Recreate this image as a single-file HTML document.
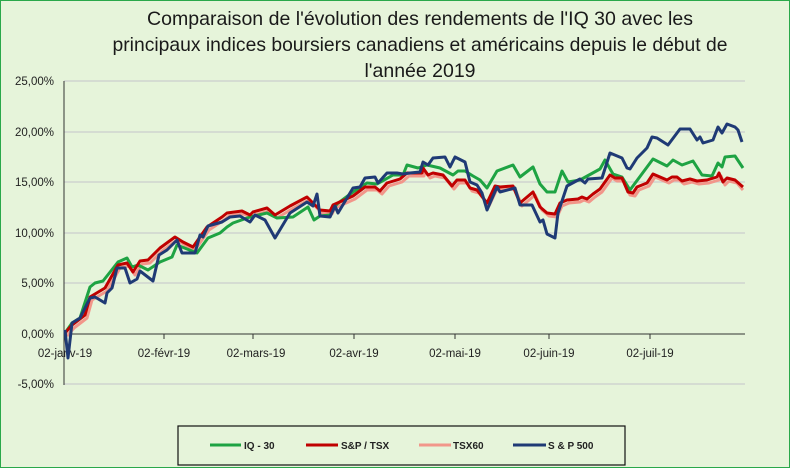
<!DOCTYPE html>
<html><head><meta charset="utf-8"><style>
body{margin:0;background:#e6f4da;}
svg{display:block;font-family:"Liberation Sans",sans-serif;}
</style></head><body>
<svg width="790" height="468" viewBox="0 0 790 468" xmlns="http://www.w3.org/2000/svg">
<rect x="0.5" y="0.5" width="789" height="467" fill="#e6f4da" stroke="#2aa84a" stroke-width="1"/>
<g font-size="19.5" fill="#1a1a1a" text-anchor="middle">
<text x="420" y="25" textLength="546" lengthAdjust="spacingAndGlyphs">Comparaison de l'évolution des rendements de l'IQ 30 avec les</text>
<text x="420" y="51" textLength="615" lengthAdjust="spacingAndGlyphs">principaux indices boursiers canadiens et américains depuis le début de</text>
<text x="420" y="77">l'année 2019</text>
</g>
<g stroke="#cfd3d0" stroke-width="1.5">
<line x1="64" y1="81" x2="745" y2="81"/><line x1="64" y1="132" x2="745" y2="132"/>
<line x1="64" y1="182" x2="745" y2="182"/><line x1="64" y1="233" x2="745" y2="233"/>
<line x1="64" y1="283" x2="745" y2="283"/><line x1="64" y1="384" x2="745" y2="384"/>
</g>
<line x1="64" y1="81" x2="64" y2="385" stroke="#333" stroke-width="1"/>
<line x1="64" y1="334" x2="745" y2="334" stroke="#333" stroke-width="1"/>
<g stroke="#333"><line x1="164" y1="334" x2="164" y2="339"/><line x1="253" y1="334" x2="253" y2="339"/><line x1="354" y1="334" x2="354" y2="339"/><line x1="455" y1="334" x2="455" y2="339"/><line x1="549" y1="334" x2="549" y2="339"/><line x1="650" y1="334" x2="650" y2="339"/></g>
<g font-size="11.5" fill="#222" text-anchor="end">
<text x="54" y="85">25,00%</text><text x="54" y="136">20,00%</text><text x="54" y="186">15,00%</text>
<text x="54" y="237">10,00%</text><text x="54" y="287">5,00%</text><text x="54" y="338">0,00%</text><text x="54" y="388">-5,00%</text>
</g>
<g font-size="11.5" fill="#222" text-anchor="middle">
<text x="65" y="357">02-janv-19</text><text x="164" y="357">02-févr-19</text><text x="256" y="357">02-mars-19</text>
<text x="354" y="357">02-avr-19</text><text x="455" y="357">02-mai-19</text><text x="549" y="357">02-juin-19</text><text x="650" y="357">02-juil-19</text>
</g>
<g fill="none" stroke-width="3" stroke-linejoin="round">
<polyline stroke="#f2968a" transform="translate(2,3)" points="65,333 72,325 85,315 90,297 105,288 118,265 127,263 133,272 140,261 148,260 160,248 175,237 183,242 193,247 207,227 222,217 227,213 242,211 250,215 253,212 267,208 275,215 290,206 307,197 320,210 330,211 333,205 353,196 365,187 375,187 380,191 387,183 400,179 407,173 422,173 423,168 428,175 433,173 443,175 452,186 457,180 465,180 470,188 477,190 487,203 495,186 500,187 513,186 520,203 533,192 540,207 547,213 555,214 560,203 567,200 578,199 582,197 587,199 593,194 600,189 610,175 615,178 622,178 628,192 633,193 637,187 647,183 653,174 667,180 672,177 677,177 682,181 690,179 697,181 707,180 717,177 719,173 723,182 727,178 735,180 741,187"/>
<polyline stroke="#1ea343" points="65,333 72,323 80,318 90,287 95,283 103,281 118,262 127,258 132,267 138,265 148,270 160,262 172,257 177,245 197,253 208,238 220,233 227,227 233,223 250,217 267,213 277,218 293,217 308,207 314,220 320,216 330,215 337,204 353,192 367,183 377,184 393,175 403,175 407,165 418,168 427,165 440,168 453,175 458,171 465,171 473,176 480,180 487,188 497,171 513,165 520,177 533,167 540,184 547,192 555,192 562,171 568,182 580,180 600,169 605,160 613,174 622,177 630,190 653,159 667,166 673,160 682,165 693,161 702,175 712,176 718,163 722,167 725,157 735,156 743,168"/>
<polyline stroke="#c00000" points="65,333 72,325 85,315 90,297 105,288 118,265 127,263 133,272 140,261 148,260 160,248 175,237 183,242 193,247 207,227 222,217 227,213 242,211 250,215 253,212 267,208 275,215 290,206 307,197 320,210 330,211 333,205 353,196 365,187 375,187 380,191 387,183 400,179 407,173 422,173 423,168 428,175 433,173 443,175 452,186 457,180 465,180 470,188 477,190 487,203 495,186 500,187 513,186 520,203 533,192 540,207 547,213 555,214 560,203 567,200 578,199 582,197 587,199 593,194 600,189 610,175 615,178 622,178 628,192 633,193 637,187 647,183 653,174 667,180 672,177 677,177 682,181 690,179 697,181 707,180 717,177 719,173 723,182 727,178 735,180 743,187"/>
<polyline stroke="#1f3a75" points="65,330 68,358 72,323 80,318 90,298 95,297 105,303 107,293 112,288 117,268 125,268 130,283 137,279 140,271 153,281 159,255 167,250 177,240 182,253 195,253 200,235 203,237 208,226 222,222 230,217 240,216 250,222 255,215 265,220 275,238 290,213 307,202 313,206 317,194 320,216 330,217 335,206 338,213 353,188 360,187 365,178 375,177 378,183 387,173 397,173 403,174 410,173 420,172 423,162 428,165 433,158 445,157 450,167 455,157 465,162 470,182 477,185 482,193 487,210 497,187 500,192 515,188 520,205 532,205 540,222 543,220 547,234 555,238 558,213 567,186 580,179 585,183 588,179 602,178 610,153 622,158 627,168 630,169 637,158 647,148 652,137 657,138 668,145 680,129 690,129 697,140 700,137 703,143 713,140 718,127 722,133 727,124 735,127 738,130 742,142"/>
</g>
<rect x="178" y="426" width="447" height="39" fill="#e6f4da" stroke="#111" stroke-width="1.2"/>
<g stroke-width="3">
<line x1="210" y1="445" x2="241" y2="445" stroke="#1ea343"/>
<line x1="306" y1="445" x2="338" y2="445" stroke="#c00000"/>
<line x1="419" y1="445" x2="451" y2="445" stroke="#f2968a"/>
<line x1="513" y1="445" x2="546" y2="445" stroke="#1f3a75"/>
</g>
<g font-size="10" font-weight="bold" fill="#222">
<text x="244" y="449">IQ - 30</text><text x="341" y="449">S&amp;P / TSX</text>
<text x="453" y="449">TSX60</text><text x="548" y="449">S &amp; P 500</text>
</g>
</svg>
</body></html>
